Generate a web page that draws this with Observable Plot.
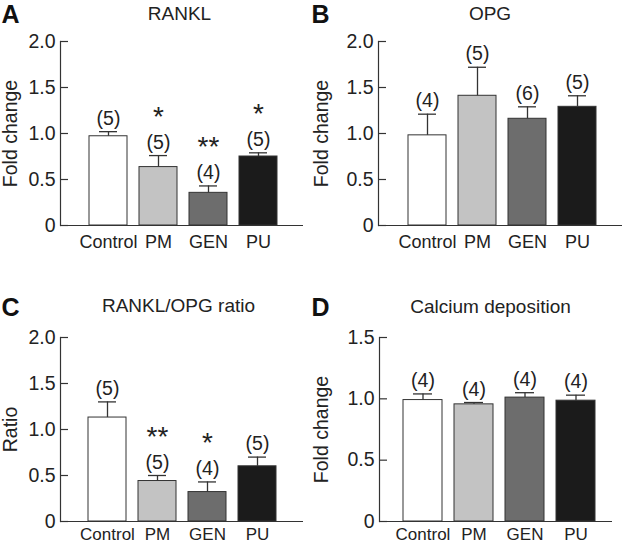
<!DOCTYPE html>
<html><head><meta charset="utf-8">
<script src="https://cdn.jsdelivr.net/npm/d3@7"></script>
<script src="https://cdn.jsdelivr.net/npm/@observablehq/plot@0.6"></script>
<style>
body{margin:0;background:#fff;}
#root{position:relative;width:623px;height:543px;overflow:hidden;background:#fff;}
#root svg{position:absolute;}
</style></head><body><div id="root"></div>
<script>
const groups = ["Control", "PM", "GEN", "PU"];
const fills = ["#ffffff", "#c3c3c3", "#6d6d6d", "#1b1b1b"];

const ranklMean = [0.97, 0.635, 0.355, 0.75];
const ranklErr = [0.05, 0.125, 0.075, 0.04];
const ranklN = [5, 5, 4, 5];
const ranklStars = ["", "*", "**", "*"];

const opgMean = [0.98, 1.41, 1.16, 1.29];
const opgErr = [0.23, 0.31, 0.13, 0.12];
const opgN = [4, 5, 6, 5];
const opgStars = ["", "", "", ""];

const ratioMean = [1.13, 0.44, 0.32, 0.60];
const ratioErr = [0.17, 0.06, 0.11, 0.10];
const ratioN = [5, 5, 4, 5];
const ratioStars = ["", "**", "*", ""];

const calcMean = [0.99, 0.955, 1.01, 0.985];
const calcErr = [0.05, 0.015, 0.04, 0.045];
const calcN = [4, 4, 4, 4];
const calcStars = ["", "", "", ""];

const ticks2 = [0, 0.5, 1.0, 1.5, 2.0];
const ticks15 = [0, 0.5, 1.0, 1.5];

const FONT = "'Liberation Sans', Arial, Helvetica, sans-serif";
const INK = "#222";
const LINE = "#333";

function panel(c) {
  const data = groups.map((g, i) => ({g, m: c.means[i], top: c.means[i] + c.errs[i], n: `(${c.ns[i]})`, s: c.stars[i], f: fills[i]}));
  const fw = c.width - c.mL - c.mR;
  const svg = Plot.plot({
    width: c.width, height: c.height,
    marginLeft: c.mL, marginRight: c.mR, marginTop: c.mT, marginBottom: c.mB,
    style: {fontFamily: FONT, background: "transparent", color: INK},
    x: {domain: groups, range: c.xRange, paddingInner: 0.24, paddingOuter: 0, align: 0},
    y: {domain: [0, c.yMax]},
    color: {type: "identity"},
    marks: [
      Plot.barY(data, {x: "g", y: "m", fill: "f", stroke: LINE, strokeWidth: 1}),
      Plot.ruleX(data, {x: "g", y1: "m", y2: "top", stroke: LINE, strokeWidth: 1.3}),
      Plot.tickY(data, {x: "g", y: "top", insetLeft: 10, insetRight: 10, stroke: LINE, strokeWidth: 1.3}),
      Plot.axisY({ticks: c.yTicks, tickSize: 0, tickPadding: 5, tickFormat: d => d === 0 ? "0" : d.toFixed(1), fontSize: 19.5,
        label: c.ylabel, labelAnchor: "center", labelOffset: c.mL - 3, labelArrow: "none"}),
      Plot.tickY(c.yTicks, {y: d => d, insetRight: fw - 8, stroke: LINE, strokeWidth: 1.2}),
      Plot.frame({anchor: "left", stroke: LINE, strokeWidth: 1.2}),
      Plot.ruleY([0], {stroke: LINE, strokeWidth: 1.2}),
      Plot.axisX({tickSize: 0, tickPadding: c.xPad, fontSize: c.xFont, label: null}),
      Plot.text(data, {x: "g", y: "top", text: "n", dy: -7, lineAnchor: "bottom", fontSize: 19.5, fill: INK}),
      Plot.text(data.filter(d => d.s), {x: "g", y: "top", text: "s", dy: -30, lineAnchor: "bottom", fontSize: 28, fill: INK}),
      Plot.text([c.letter], {frameAnchor: "top-left", dx: -c.mL + c.letterX, dy: -c.mT + c.letterTop, lineAnchor: "top", textAnchor: "start", fontSize: 25, fontWeight: "bold", fill: "#111"}),
      Plot.text([c.title], {frameAnchor: "top", dx: c.titleDx, dy: -c.mT + c.titleTop, lineAnchor: "top", fontSize: 19, fill: INK})
    ]
  });
  svg.style.left = c.left + "px";
  svg.style.top = c.top + "px";
  document.getElementById("root").appendChild(svg);
}

panel({letter: "A", title: "RANKL", ylabel: "Fold change", means: ranklMean, errs: ranklErr, ns: ranklN, stars: ranklStars,
  yTicks: ticks2, yMax: 2, left: 0, top: 0, width: 311, height: 270, mL: 60, mR: 8, mT: 41, mB: 45,
  xRange: [89, 278], xPad: 10, xFont: 18, letterX: 1, letterTop: 5, titleDx: -2.5, titleTop: 6});
panel({letter: "B", title: "OPG", ylabel: "Fold change", means: opgMean, errs: opgErr, ns: opgN, stars: opgStars,
  yTicks: ticks2, yMax: 2, left: 311, top: 0, width: 312, height: 270, mL: 67, mR: 1, mT: 41, mB: 45,
  xRange: [97, 285], xPad: 10, xFont: 18, letterX: 0, letterTop: 5, titleDx: -10.5, titleTop: 6});
panel({letter: "C", title: "RANKL/OPG ratio", ylabel: "Ratio", means: ratioMean, errs: ratioErr, ns: ratioN, stars: ratioStars,
  yTicks: ticks2, yMax: 2, left: 0, top: 270, width: 311, height: 273, mL: 60, mR: 8, mT: 67, mB: 22,
  xRange: [88, 277], xPad: 6, xFont: 17, letterX: 1, letterTop: 28, titleDx: -3.5, titleTop: 28});
panel({letter: "D", title: "Calcium deposition", ylabel: "Fold change", means: calcMean, errs: calcErr, ns: calcN, stars: calcStars,
  yTicks: ticks15, yMax: 1.5, left: 311, top: 270, width: 312, height: 273, mL: 68, mR: 11, mT: 67, mB: 22,
  xRange: [92, 284], xPad: 6, xFont: 17, letterX: 0, letterTop: 28, titleDx: -5.5, titleTop: 29});
</script>
</body></html>
